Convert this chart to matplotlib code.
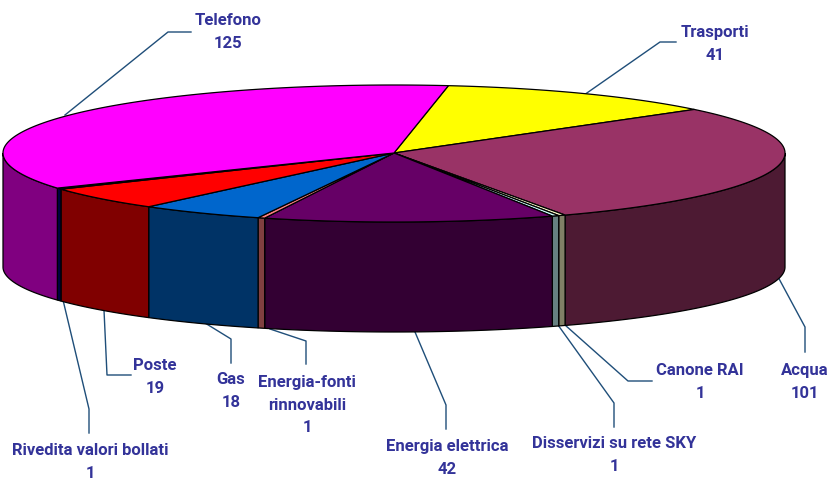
import numpy as np
import matplotlib
matplotlib.use('Agg')
import matplotlib.pyplot as plt

names = ['Trasporti', 'Acqua', 'Canone RAI', 'Disservizi su rete SKY', 'Energia elettrica',
         'Energia-fonti\nrinnovabili', 'Gas', 'Poste', 'Rivedita valori bollati', 'Telefono']
values = [41, 101, 1, 1, 42, 1, 18, 19, 1, 125]
top_colors = ['#ffff00', '#993366', '#ffffcc', '#ccffff', '#660066',
              '#ff8080', '#0066cc', '#ff0000', '#000080', '#ff00ff']
side_colors = ['#808000', '#4d1a33', '#808066', '#668080', '#330033',
               '#804040', '#003366', '#800000', '#000040', '#800080']

# label centre and leader line, in pixels of the reference
label_pos = [(715, 44), (805, 382), (700, 382), (614, 455), (447, 458),
             (307, 405), (231, 391), (155, 377), (90, 462), (228, 32)]
leaders = [
    [(584, 95), (660, 42), (676, 42)],
    [(777, 275), (805, 327), (805, 352)],
    [(565, 325), (628, 381), (652, 381)],
    [(558, 325), (614, 403), (614, 427)],
    [(415, 332), (446, 405), (446, 429)],
    [(270, 329), (306, 341), (306, 364)],
    [(205, 323), (231, 339), (231, 363)],
    [(104, 310), (107, 375), (131, 375)],
    [(63, 300), (89, 409), (89, 433)],
    [(65, 115), (168, 32), (191, 32)],
]

cx, cy = 394, 153
a = 391
b_back, b_front, b_bottom = 68, 69, 65   # front is a bit bigger, bottom a bit flatter
depth = 114
start = 82

fig = plt.figure(figsize=(8.32, 4.83), dpi=100)
ax = fig.add_axes([0, 0, 1, 1])
ax.set_xlim(0, 832)
ax.set_ylim(483, 0)
ax.axis('off')


def arc(t0, t1, bottom=False):
    t = np.radians(np.linspace(t0, t1, max(int(abs(t1 - t0) * 2), 2)))
    s = np.sin(t)
    if bottom:
        y = cy + depth - b_bottom * s
    else:
        y = cy - np.where(s > 0, b_back, b_front) * s
    return cx + a * np.cos(t), y


sweep = np.array(values) / sum(values) * 360
ends = start - np.cumsum(sweep)
starts = ends + sweep

# sides first, only the front half of the ellipse shows
for t0, t1, col in zip(starts, ends, side_colors):
    for shift in (0, -360):
        s0, s1 = min(t0 + shift, 0), max(t1 + shift, -180)
        if s0 > s1:
            x, y = arc(s0, s1)
            xb, yb = arc(s0, s1, bottom=True)
            ax.fill(np.r_[x, xb[::-1]], np.r_[y, yb[::-1]], fc=col, ec='black', lw=0.9, zorder=2)

for t0, t1, col in zip(starts, ends, top_colors):
    x, y = arc(t0, t1)
    ax.fill(np.r_[cx, x], np.r_[cy, y], fc=col, ec='black', lw=0.9, zorder=3)

for pts in leaders:
    px, py = zip(*pts)
    ax.plot(px, py, color='#1f4e79', lw=1, zorder=1)

for name, val, (lx, ly) in zip(names, values, label_pos):
    ax.text(lx, ly, f'{name}\n{val}', ha='center', va='center', color='#333399', fontsize=12,
            fontweight='bold', family='Roboto', linespacing=1.65)

fig.savefig('out.png', dpi=100)
